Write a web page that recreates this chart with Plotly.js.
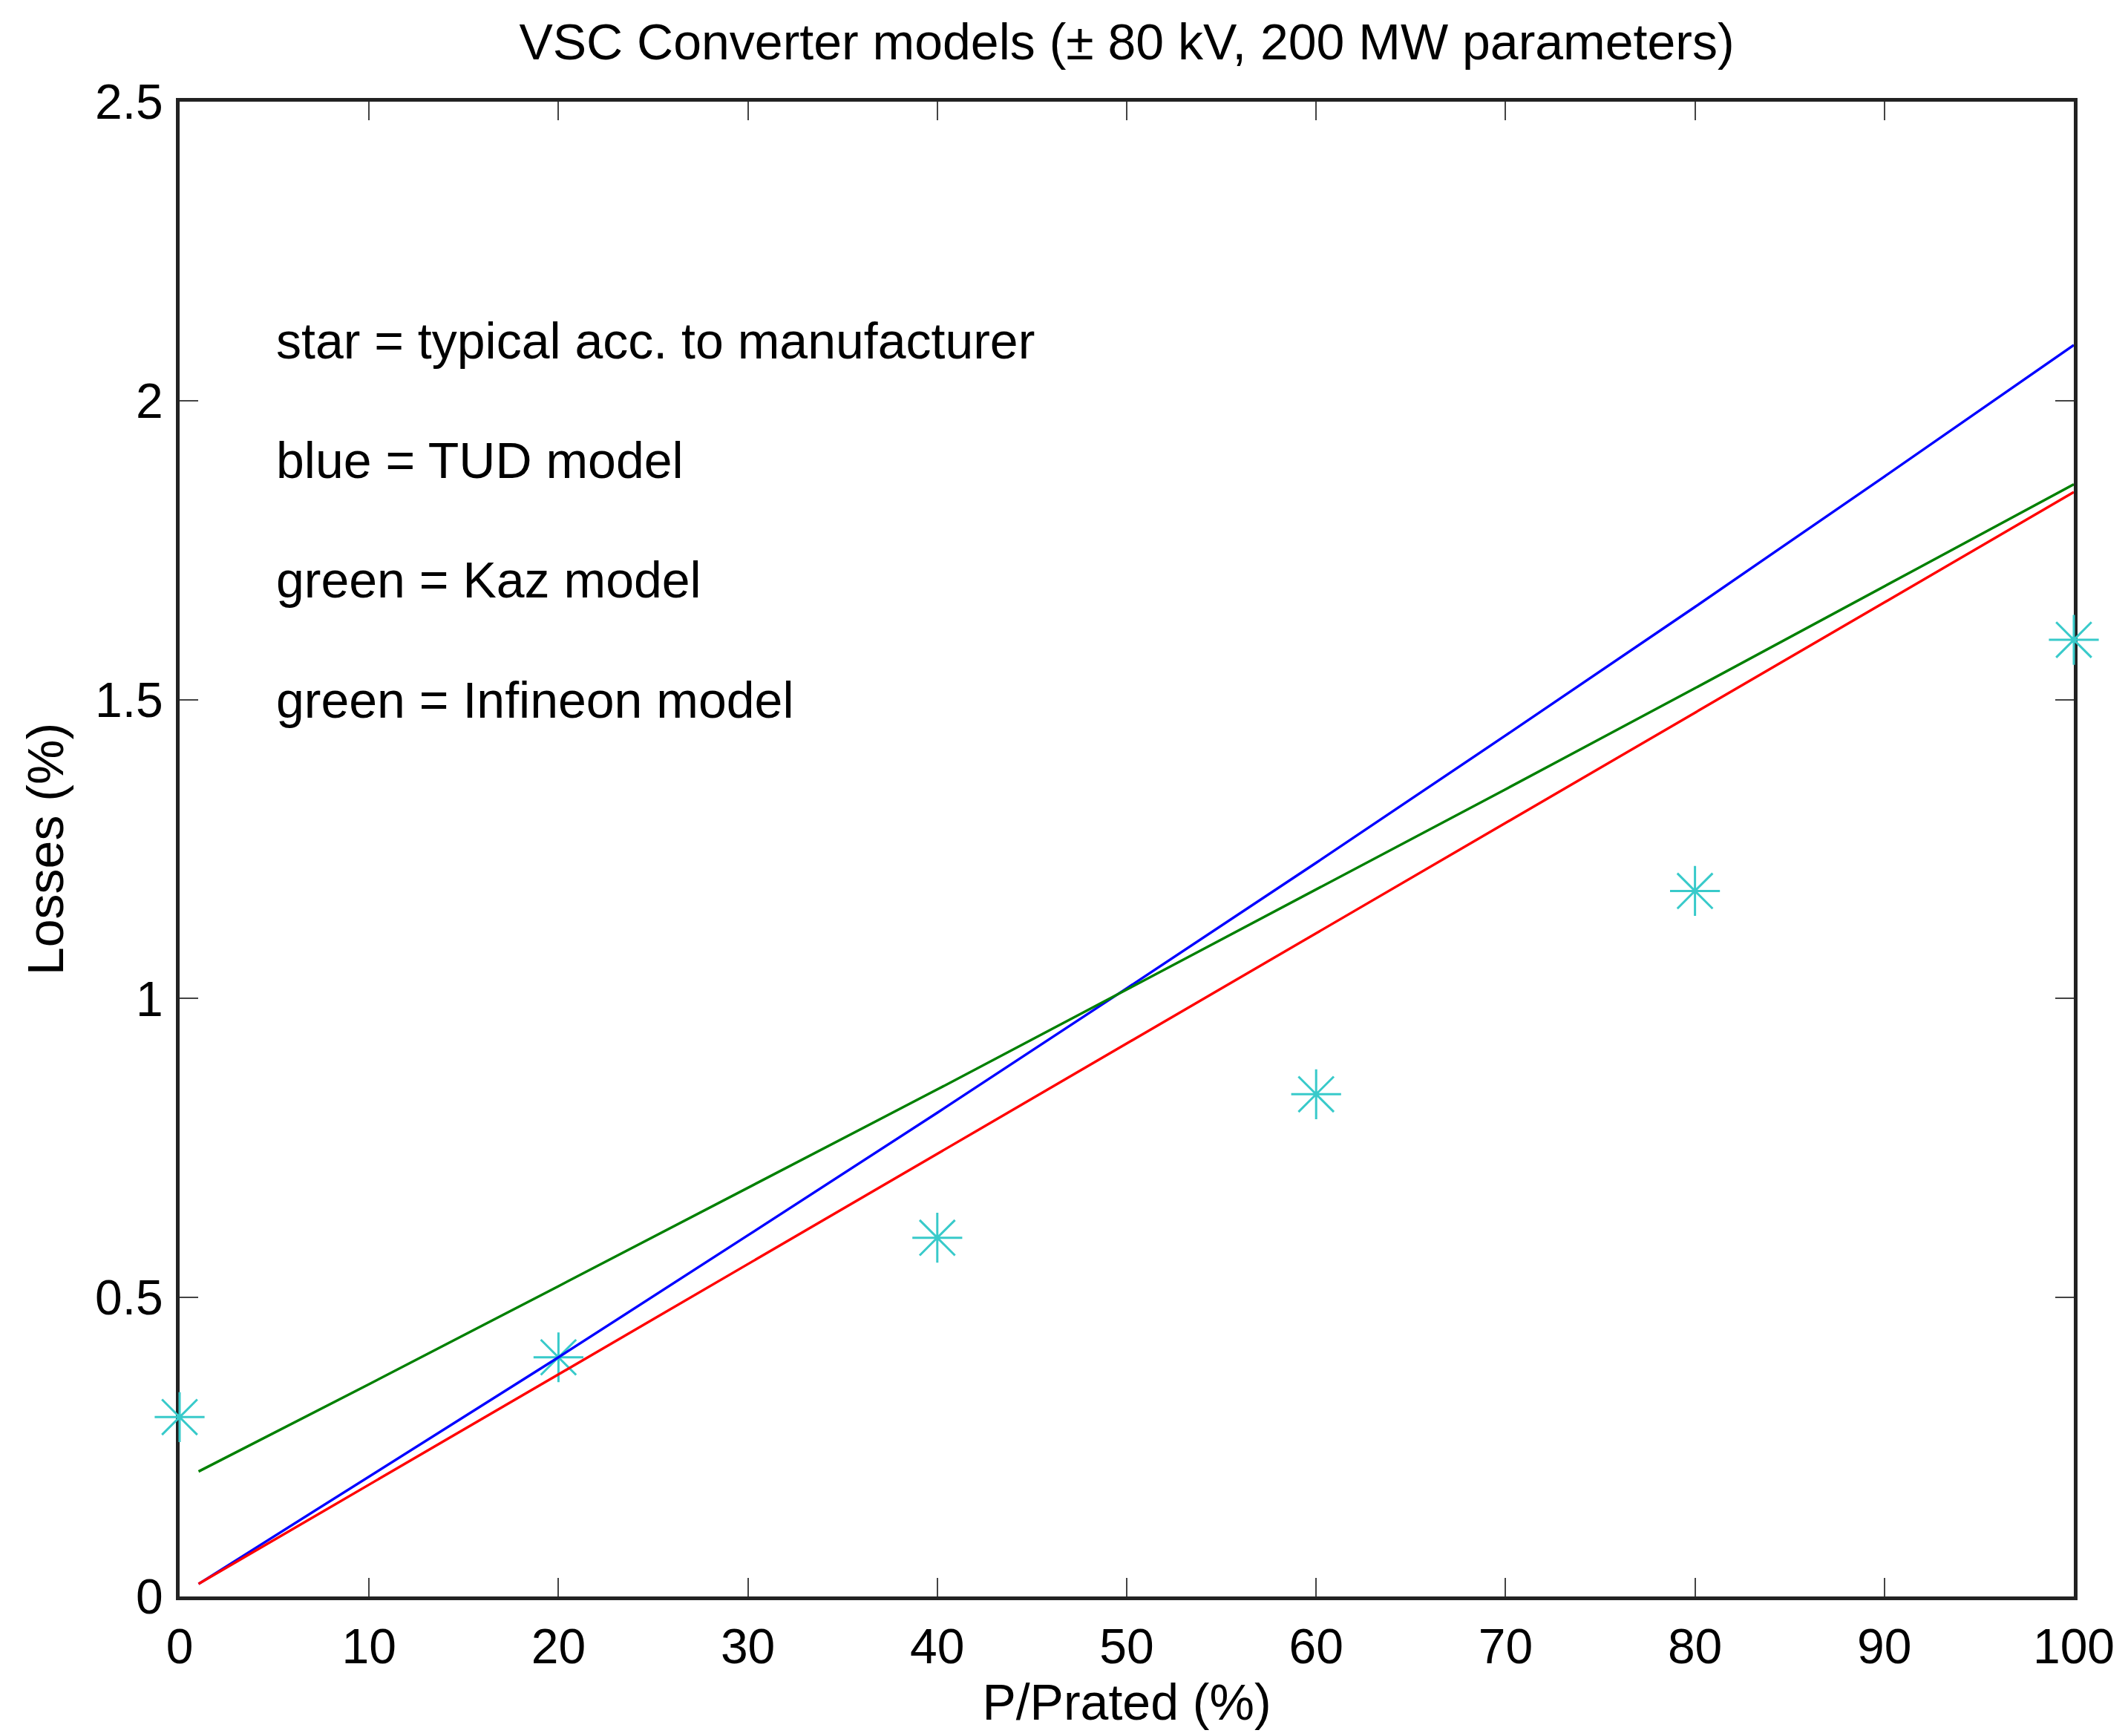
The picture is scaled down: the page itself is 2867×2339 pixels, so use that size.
<!DOCTYPE html>
<html>
<head>
<meta charset="utf-8">
<script src="https://cdn.plot.ly/plotly-3.0.1.min.js"></script>
<style>
  html, body { margin: 0; padding: 0; background: #ffffff; }
  #chart { width: 2867px; height: 2339px; }
</style>
</head>
<body>
<div id="chart"></div>
<script>
// ---- Data ----
const starX = [0, 20, 40, 60, 80, 100];
const starY = [0.30, 0.40, 0.60, 0.84, 1.18, 1.60];   // typical acc. to manufacturer

const modelX = [1, 10, 20, 30, 40, 50, 60, 70, 80, 90, 100];
const tudY      = [0.021, 0.200, 0.400, 0.604, 0.809, 1.017, 1.227, 1.440, 1.655, 1.873, 2.093]; // blue
const kazY      = [0.209, 0.355, 0.519, 0.683, 0.848, 1.015, 1.182, 1.350, 1.519, 1.689, 1.860]; // green
const infineonY = [0.021, 0.187, 0.371, 0.556, 0.740, 0.925, 1.109, 1.294, 1.478, 1.663, 1.847]; // red

const noteLines = [
  "star = typical acc. to manufacturer",
  "blue = TUD model",
  "green = Kaz model",
  "green = Infineon model"
];
const noteY = [2.1, 1.9, 1.7, 1.5];
const noteX = 5;

const titleText = "VSC Converter models (\u00B1 80 kV, 200 MW parameters)";
const xTitle = "P/Prated (%)";
const yTitle = "Losses (%)";

// ---- Chart ----
const FONT = '"Liberation Sans", Arial, Helvetica, sans-serif';
const FS = 68;      // title, axis titles, notes
const TFS = 66;     // tick labels

const traces = [
  {
    x: starX, y: starY, type: 'scatter', mode: 'markers', name: 'typical',
    cliponaxis: false,
    marker: { symbol: 'asterisk-open', size: 56, color: '#38caca',
              line: { color: '#38caca', width: 3 } }
  },
  {
    x: modelX, y: tudY, type: 'scatter', mode: 'lines', name: 'TUD',
    line: { color: '#0000ff', width: 3.4 }
  },
  {
    x: modelX, y: kazY, type: 'scatter', mode: 'lines', name: 'Kaz',
    line: { color: '#008000', width: 3.4 }
  },
  {
    x: modelX, y: infineonY, type: 'scatter', mode: 'lines', name: 'Infineon',
    line: { color: '#ff0000', width: 3.4 }
  }
];

const annotations = noteLines.map((t, i) => ({
  text: t, x: noteX, y: noteY[i], xref: 'x', yref: 'y',
  xanchor: 'left', yanchor: 'middle', showarrow: false,
  font: { family: FONT, size: FS, color: '#000000' }
}));

const axisCommon = {
  showline: true, linewidth: 5, linecolor: '#222222',
  mirror: 'ticks', ticks: 'inside', ticklen: 25, tickwidth: 2, tickcolor: '#444444',
  showgrid: false, zeroline: false, layer: 'below traces',
  tickfont: { family: FONT, size: TFS, color: '#000000' },
  fixedrange: true
};

const layout = {
  width: 2867, height: 2339, autosize: false,
  paper_bgcolor: '#ffffff', plot_bgcolor: '#ffffff',
  margin: { l: 242, r: 73, t: 137, b: 188, pad: 0 },
  showlegend: false,
  font: { family: FONT, size: FS, color: '#000000' },
  title: {
    text: titleText, x: 0.5, xref: 'paper', xanchor: 'center',
    y: 1 - 56 / 2339, yref: 'container', yanchor: 'middle',
    font: { family: FONT, size: FS, color: '#000000' }
  },
  xaxis: Object.assign({}, axisCommon, {
    range: [0, 100], tick0: 0, dtick: 10,
    ticklabelstandoff: 6,
    title: { text: xTitle, standoff: 0, font: { family: FONT, size: FS, color: '#000000' } }
  }),
  yaxis: Object.assign({}, axisCommon, {
    range: [0, 2.5], tick0: 0, dtick: 0.5,
    ticklabelstandoff: 4,
    title: { text: yTitle, standoff: 22, font: { family: FONT, size: FS, color: '#000000' } }
  }),
  annotations: annotations
};

Plotly.newPlot('chart', traces, layout, { staticPlot: true, displayModeBar: false });
</script>
</body>
</html>
